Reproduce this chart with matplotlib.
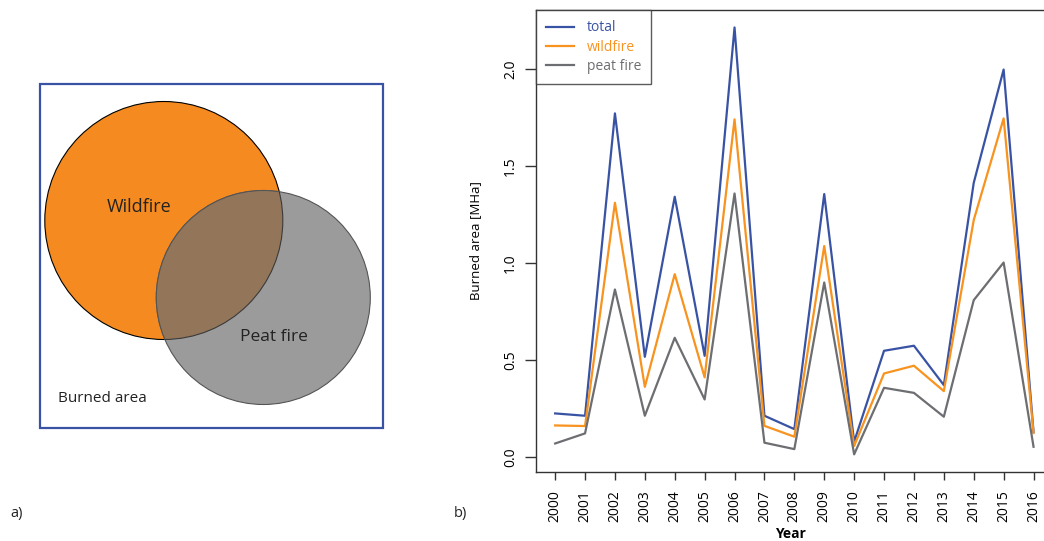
import matplotlib
matplotlib.use("Agg")
import matplotlib.pyplot as plt
from matplotlib.patches import Circle, Rectangle

plt.rcParams['font.family'] = ['Open Sans', 'DejaVu Sans']

years = list(range(2000, 2017))
total = [0.225, 0.213, 1.772, 0.517, 1.342, 0.522, 2.215, 0.213, 0.144, 1.356,
         0.079, 0.548, 0.574, 0.371, 1.414, 1.998, 0.130]
wildfire = [0.163, 0.160, 1.311, 0.362, 0.943, 0.411, 1.741, 0.161, 0.105, 1.088,
            0.057, 0.431, 0.471, 0.340, 1.222, 1.746, 0.124]
peat = [0.070, 0.122, 0.864, 0.213, 0.615, 0.297, 1.359, 0.074, 0.041, 0.900,
        0.014, 0.357, 0.331, 0.208, 0.809, 1.003, 0.053]
series_labels = ['total', 'wildfire', 'peat fire']
yticks = [0.0, 0.5, 1.0, 1.5, 2.0]

BLUE = '#3953A4'
ORANGE = '#F7931E'
GRAY = '#6D6E71'

W, H = 1044, 541
fig = plt.figure(figsize=(W / 100, H / 100), dpi=100)

# ---- panel a: schematic Venn diagram (pixel coordinates) ----
ax0 = fig.add_axes([0, 0, 1, 1])
ax0.set_xlim(0, W)
ax0.set_ylim(H, 0)
ax0.axis('off')
ax0.add_patch(Rectangle((40, 84), 343, 344, fill=False, edgecolor=BLUE, lw=1.6))
c_wild = Circle((163.8, 220.5), 119, facecolor='#F58B20', edgecolor='black', lw=0.8)
ax0.add_patch(c_wild)
c_peat = Circle((263.3, 297.5), 107, facecolor='#9B9B9C', edgecolor='#555555', lw=0.8)
ax0.add_patch(c_peat)
c_over = Circle((263.3, 297.5), 107, facecolor='#93765A', edgecolor='#555555', lw=0.8)
ax0.add_patch(c_over)
c_over.set_clip_path(c_wild)
c_edge = Circle((163.8, 220.5), 119, facecolor='none', edgecolor='#3a3a3a', lw=0.8)
ax0.add_patch(c_edge)
c_edge.set_clip_path(c_peat)
ax0.text(139, 207, 'Wildfire', fontsize=13, ha='center', va='center', color='#222222')
ax0.text(274, 337, 'Peat fire', fontsize=12.5, ha='center', va='center', color='#222222')
ax0.text(102, 399, 'Burned area', fontsize=11, ha='center', va='center', color='#222222')
ax0.text(10, 514, 'a)', fontsize=10.5, ha='left', va='center', color='#222222')
ax0.text(454, 514, 'b)', fontsize=10.5, ha='left', va='center', color='#222222')

# ---- panel b: time series ----
ax = fig.add_axes([536 / W, (H - 472) / H, (W - 536) / W, (472 - 10) / H])
ax.plot(years, total, color=BLUE, lw=1.6, label=series_labels[0])
ax.plot(years, wildfire, color=ORANGE, lw=1.6, label=series_labels[1])
ax.plot(years, peat, color=GRAY, lw=1.6, label=series_labels[2])
ax.set_xlim(1999.36, 2016.35)
ax.set_ylim(-0.077, 2.305)
ax.set_xticks(years)
ax.set_xticklabels([str(y) for y in years], rotation=90, fontsize=10)
ax.set_yticks(yticks)
ax.set_yticklabels([f'{v:.1f}' for v in yticks], rotation=90, va='center', fontsize=10)
ax.tick_params(axis='x', length=6, width=1, color='#333333', pad=7)
ax.tick_params(axis='y', length=8, width=1, color='#333333', pad=5)
for s in ['top', 'left', 'bottom']:
    ax.spines[s].set_color('#333333')
    ax.spines[s].set_linewidth(1.0)
ax.spines['right'].set_visible(False)
ax.set_xlabel('Year', fontsize=10, fontweight='bold', labelpad=4)
ax.set_ylabel('Burned area [MHa]', fontsize=9.5, labelpad=15)
leg = ax.legend(loc='upper left', borderaxespad=0, fontsize=10, fancybox=False,
                edgecolor='#333333', handlelength=2.0, handletextpad=0.9,
                labelspacing=0.3, borderpad=0.75, labelcolor='linecolor')
leg.get_frame().set_linewidth(1.0)

fig.savefig('out.png', dpi=100)
